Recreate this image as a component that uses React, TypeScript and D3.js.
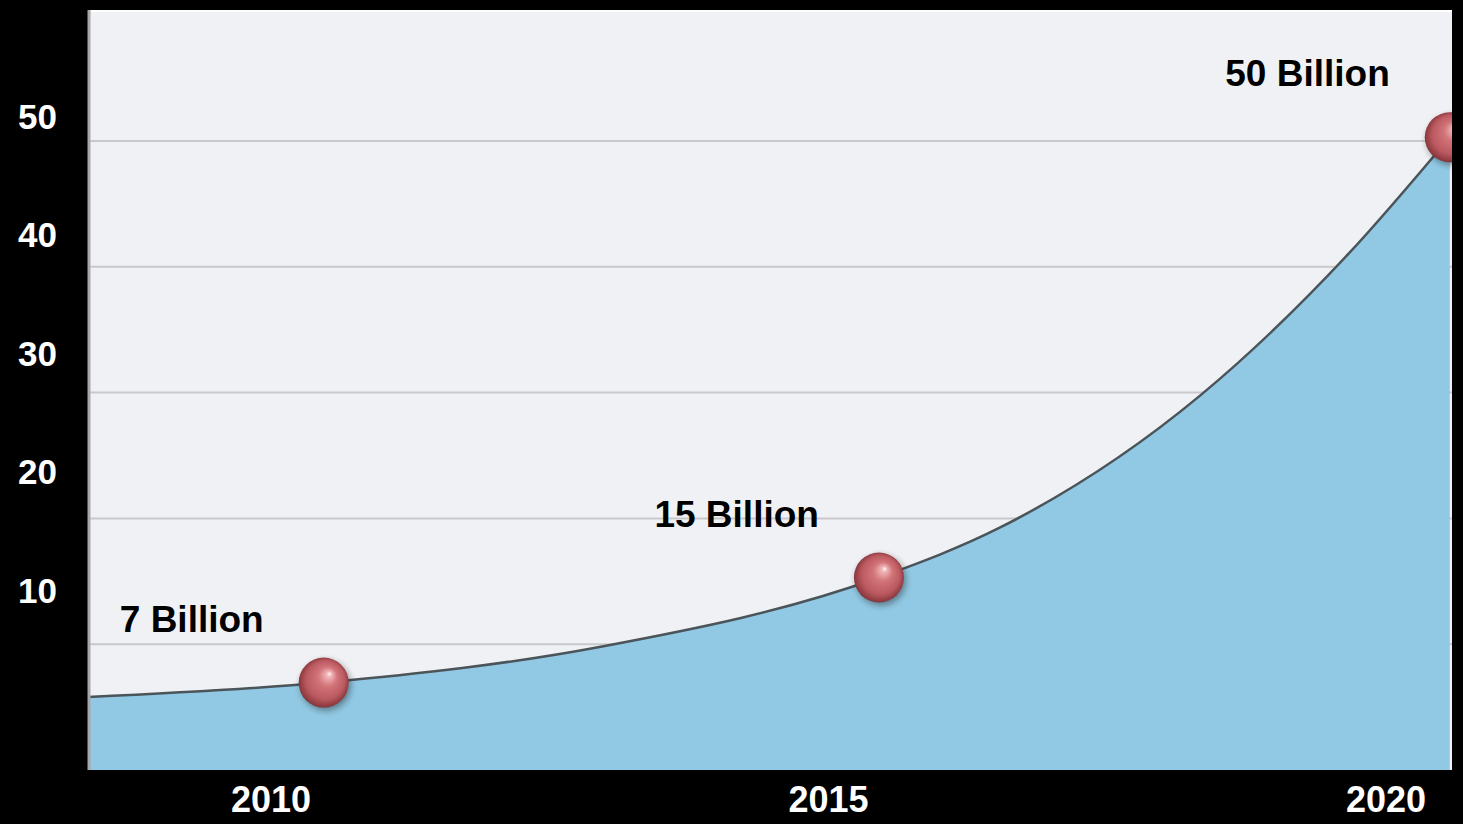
import React from "react";
import * as d3 from "d3";

// ---- data ----
const curveYears = [2008.36, 2010.47, 2012.95, 2015.44, 2016.53, 2018.32, 2019.64, 2020.55];
const curveValues = [5.8, 6.95, 9.8, 15.3, 19.3, 29.8, 41.0, 50.3];
const markerYears = [2010.47, 2015.44, 2020.55];
const markerValues = [6.95, 15.3, 50.3];
const markerLabels = ["7 Billion", "15 Billion", "50 Billion"];
const xTickYears = [2010, 2015, 2020];
const yTickValues = [10, 20, 30, 40, 50];

const W = 1463;
const H = 824;
const plot = { left: 88, top: 10, right: 1452, bottom: 770 };

export default function App() {
  const x = d3.scaleLinear().domain([2008.36, 2020.57]).range([plot.left, plot.right]);
  const xLabel = d3.scaleLinear().domain([2010, 2020]).range([271, 1386]);
  const y = d3.scaleLinear().domain([0, 50]).range([plot.bottom, 141]);
  const yLabel = d3.scaleLinear().domain([10, 50]).range([590, 116]);

  const pts = curveYears.map((yr, i) => [yr, curveValues[i]] as [number, number]);
  const area = d3
    .area<[number, number]>()
    .x((d) => x(d[0]))
    .y0(plot.bottom)
    .y1((d) => y(d[1]))
    .curve(d3.curveMonotoneX);
  const line = d3
    .line<[number, number]>()
    .x((d) => x(d[0]))
    .y((d) => y(d[1]))
    .curve(d3.curveMonotoneX);

  const font = "'Liberation Sans', Arial, Helvetica, sans-serif";
  const r = 25;

  return (
    <svg width={W} height={H} style={{ position: "absolute", left: 0, top: 0, background: "#000" }}>
      <defs>
        <clipPath id="plotClip">
          <rect x={plot.left} y={plot.top} width={plot.right - plot.left} height={plot.bottom - plot.top} />
        </clipPath>
        <radialGradient id="sphere" cx="0.5" cy="0.5" r="0.55" fx="0.62" fy="0.32">
          <stop offset="0%" stopColor="#fff4f4" />
          <stop offset="10%" stopColor="#f0b4b6" />
          <stop offset="35%" stopColor="#d27479" />
          <stop offset="70%" stopColor="#bb5960" />
          <stop offset="90%" stopColor="#8e3a40" />
          <stop offset="100%" stopColor="#5e2328" />
        </radialGradient>
        <filter id="blur" x="-50%" y="-50%" width="200%" height="200%">
          <feGaussianBlur stdDeviation="3" />
        </filter>
      </defs>
      <rect x={0} y={0} width={W} height={H} fill="#000" />
      <rect
        x={plot.left}
        y={plot.top}
        width={plot.right - plot.left}
        height={plot.bottom - plot.top}
        fill="#f0f1f4"
      />
      <line x1={plot.left} x2={plot.right} y1={plot.top + 1} y2={plot.top + 1} stroke="#ffffff" strokeWidth={2} />
      <g clipPath="url(#plotClip)">
        {yTickValues.map((v) => (
          <line key={v} x1={plot.left} x2={plot.right} y1={y(v)} y2={y(v)} stroke="#c9c9cc" strokeWidth={2} />
        ))}
        <path d={area(pts) || ""} fill="#91c9e4" />
        <path d={line(pts) || ""} fill="none" stroke="#4a5459" strokeWidth={2.5} />
        {markerYears.map((yr, i) => (
          <g key={yr}>
            <circle cx={x(yr) + 2} cy={y(markerValues[i]) + 3} r={r} fill="#1a1a1a" opacity={0.45} filter="url(#blur)" />
            <circle cx={x(yr)} cy={y(markerValues[i])} r={r} fill="url(#sphere)" />
          </g>
        ))}
      </g>
      <line x1={plot.left + 1} x2={plot.left + 1} y1={plot.top} y2={plot.bottom} stroke="#a8a8aa" strokeWidth={3} />
      {markerYears.map((yr, i) => (
        <text
          key={"l" + yr}
          x={x(yr) - 60}
          y={y(markerValues[i]) - 51}
          textAnchor="end"
          fontFamily={font}
          fontWeight="bold"
          fontSize={37}
          fill="#000"
        >
          {markerLabels[i]}
        </text>
      ))}
      {yTickValues.map((v) => (
        <text
          key={"y" + v}
          x={57}
          y={yLabel(v)}
          textAnchor="end"
          dominantBaseline="central"
          fontFamily={font}
          fontWeight="bold"
          fontSize={35}
          fill="#fff"
        >
          {v}
        </text>
      ))}
      {xTickYears.map((yr) => (
        <text
          key={"x" + yr}
          x={xLabel(yr)}
          y={812}
          textAnchor="middle"
          fontFamily={font}
          fontWeight="bold"
          fontSize={36}
          fill="#fff"
        >
          {yr}
        </text>
      ))}
    </svg>
  );
}
